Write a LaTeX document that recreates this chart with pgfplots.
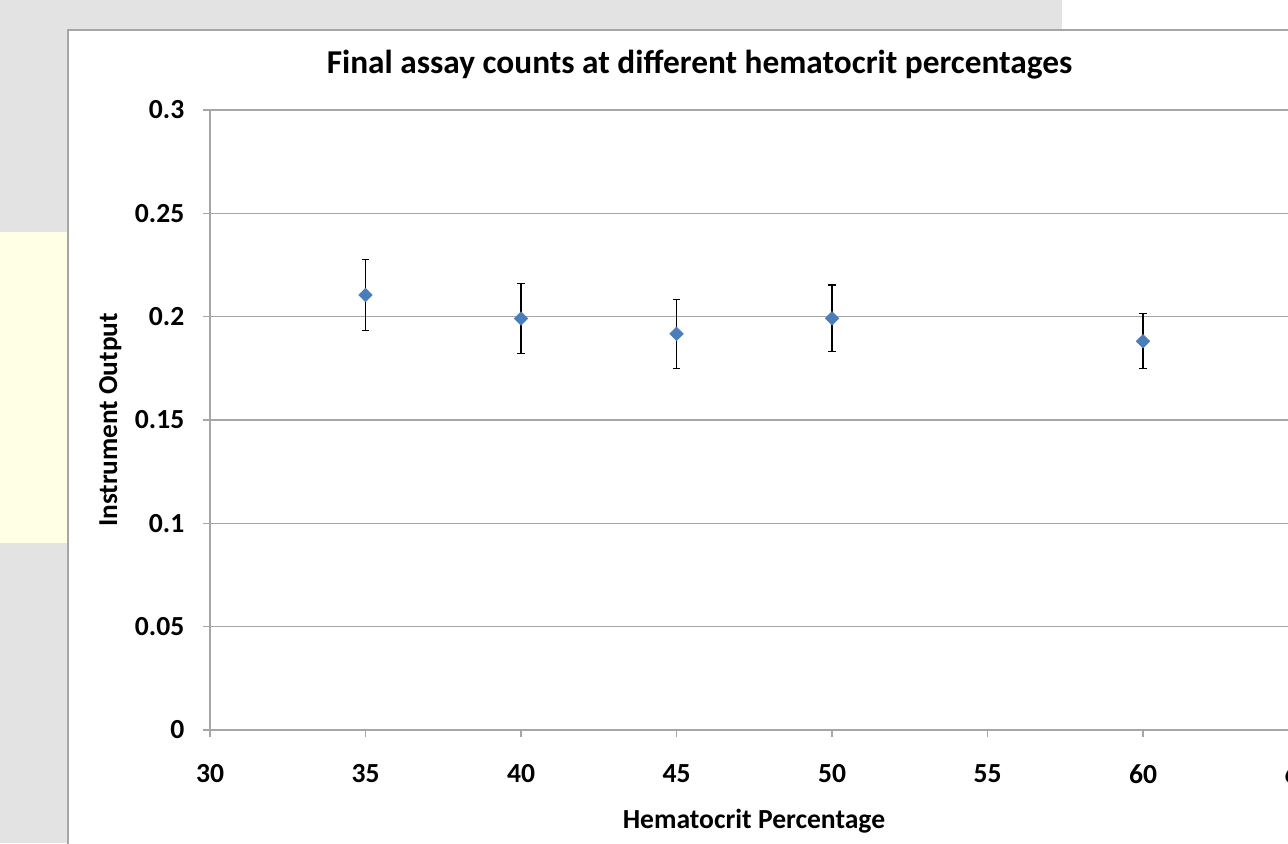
\documentclass[border=0pt]{standalone}
\usepackage{pgfplots}
\pgfplotsset{compat=1.18}
\usepackage{fontspec}
\setmainfont{Carlito}
\definecolor{bggray}{HTML}{E3E3E3}
\definecolor{bgyellow}{HTML}{FFFFE6}
\definecolor{framegray}{HTML}{A6A6A6}
\definecolor{gridgray}{HTML}{A6A6A6}
\definecolor{mblue}{HTML}{4A7EBB}
\pgfplotstableread{
x y e
35 0.2105 0.0172
40 0.1991 0.0169
45 0.1917 0.0167
50 0.1992 0.0162
60 0.1881 0.0133
}\datatable
\begin{document}
\begin{tikzpicture}[x=0.75pt,y=-0.75pt]
\path[use as bounding box, clip] (0,0) rectangle (1288,843);
\fill[white] (0,0) rectangle (1288,843);
\fill[bggray] (0,0) rectangle (1062,30);
\fill[bggray] (0,30) rectangle (68,843);
\fill[bgyellow] (0,232) rectangle (67,543);
\draw[framegray, line width=1.5pt] (68,850) -- (68,30) -- (1300,30);
\begin{axis}[
  at={(157.5pt,-547.5pt)}, anchor=south west,
  scale only axis, width=933pt, height=465pt,
  xmin=30, xmax=70, ymin=0, ymax=0.3,
  axis x line=bottom, axis y line=left,
  axis line style={-, gridgray, line width=0.9pt},
  tick style={gridgray, line width=0.9pt},
  tick align=outside, major tick length=5.25pt,
  ymajorgrids, grid style={gridgray, line width=0.9pt},
  xtick={30,35,40,45,50,55,60,65,70},
  xticklabels={30,35,40,45,50,55,60,65,70},
  ytick={0,0.05,0.1,0.15,0.2,0.25,0.3},
  yticklabels={0,0.05,0.1,0.15,0.2,0.25,0.3},
  ticklabel style={font=\bfseries\fontsize{20.7}{20.7}\selectfont, text=black},
  yticklabel style={xshift=-10.5pt},
  xticklabel style={yshift=-17pt},
  clip=false,
]
\addplot[only marks, mark=square*, mark size=3.6pt,
  mark options={rotate=45, fill=mblue, draw=mblue},
  error bars/.cd, y dir=both, y explicit,
  error bar style={black, line width=1pt},
  error mark options={black, rotate=90, mark size=2.7pt, line width=1pt}]
  table[x=x, y=y, y error=e] {\datatable};
\end{axis}
\node[font=\bfseries\fontsize{25}{25}\selectfont, anchor=base] at (699.5,73) {Final assay counts at different hematocrit percentages};
\node[font=\bfseries\fontsize{20.7}{20.7}\selectfont, anchor=base] at (754,828) {Hematocrit Percentage};
\node[font=\bfseries\fontsize{20.5}{20.5}\selectfont, anchor=base, rotate=90] at (117,420) {Instrument Output};
\end{tikzpicture}
\end{document}
